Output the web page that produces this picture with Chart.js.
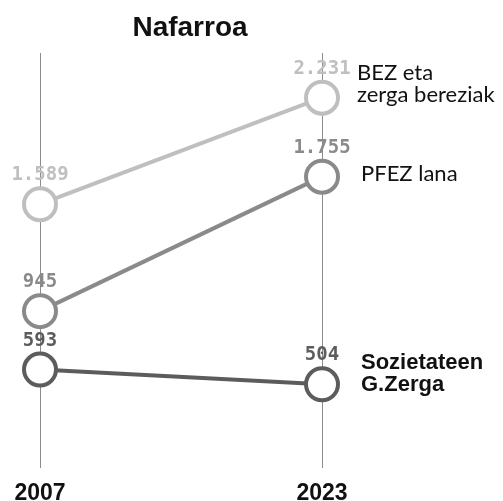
<!DOCTYPE html>
<html>
<head>
<meta charset="utf-8">
<script src="https://cdn.jsdelivr.net/npm/chart.js@4/dist/chart.umd.min.js"></script>
<style>
  html, body { margin: 0; padding: 0; background: #fff; }
  #wrap { width: 503px; height: 501px; position: relative; }
</style>
</head>
<body>
<div id="wrap"><canvas id="slope"></canvas></div>
<script>
// data (millions)
const years = ['2007', '2023'];
const seriesNames = [['BEZ eta', 'zerga bereziak'], ['PFEZ lana'], ['Sozietateen', 'G.Zerga']];
const bez = [1589, 2231];
const pfez = [945, 1755];
const sozietateen = [593, 504];
const valueLabels = [['1.589', '2.231'], ['945', '1.755'], ['593', '504']];

const colors = ['#bfbfbf', '#8a8a8a', '#5c5c5c'];
const nameOffset = [-14, -3, -10]; // vertical nudge of the names on the right
const nameX = [357, 361, 361];
const nameBold = [false, false, true];

const labelPlugin = {
  id: 'slopeLabels',
  afterDatasetsDraw(chart) {
    const c = chart.ctx;
    c.save();
    // title
    c.fillStyle = '#111';
    c.font = 'bold 28px "Liberation Sans"';
    c.textAlign = 'center';
    c.textBaseline = 'alphabetic';
    c.fillText('Nafarroa', 190, 36);

    chart.data.datasets.forEach((ds, i) => {
      const pts = chart.getDatasetMeta(i).data;
      // value labels above each point
      c.font = 'bold 19px "DejaVu Sans Mono"';
      c.fillStyle = colors[i];
      c.textAlign = 'center';
      c.textBaseline = 'alphabetic';
      pts.forEach((p, j) => c.fillText(valueLabels[i][j], p.x, p.y - 24));
      // series name at the right end
      const last = pts[pts.length - 1];
      const lines = seriesNames[i];
      c.fillStyle = '#111';
      c.font = nameBold[i] ? 'bold 22px "Liberation Sans"' : '22px Lato';
      c.textAlign = 'left';
      c.textBaseline = 'middle';
      const lh = 22;
      const y0 = last.y + nameOffset[i] - (lines.length - 1) * lh / 2;
      lines.forEach((t, k) => c.fillText(t, nameX[i], y0 + k * lh));
    });
    c.restore();
  }
};

function makeSet(label, values, i) {
  return {
    label: label,
    data: values,
    borderColor: colors[i],
    borderWidth: 4,
    pointRadius: 16,
    pointHoverRadius: 16,
    pointBorderWidth: 4,
    pointBackgroundColor: '#fff',
    pointBorderColor: colors[i],
    clip: false,
    tension: 0
  };
}

const ctx = document.getElementById('slope').getContext('2d');
const slopeChart = new Chart(ctx, {
  type: 'line',
  data: {
    labels: years,
    datasets: [
      makeSet('BEZ eta zerga bereziak', bez, 0),
      makeSet('PFEZ lana', pfez, 1),
      makeSet('Sozietateen G.Zerga', sozietateen, 2)
    ]
  },
  options: {
    responsive: true,
    maintainAspectRatio: false,
    animation: false,
    layout: { padding: { left: 40, right: 181, top: 53, bottom: 0 } },
    plugins: {
      legend: { display: false },
      title: { display: false },
      tooltip: { enabled: false }
    },
    scales: {
      x: {
        offset: false,
        border: { display: false },
        grid: { color: '#8c8c8c', lineWidth: 1, drawTicks: false },
        ticks: {
          color: '#111',
          padding: 12,
          font: { family: 'Liberation Sans', weight: 'bold', size: 23 },
          maxRotation: 0
        },
        afterFit(scale) { scale.height = 33; }
      },
      y: { display: false, min: 0, max: 2500 }
    }
  },
  plugins: [labelPlugin]
});
</script>
</body>
</html>
